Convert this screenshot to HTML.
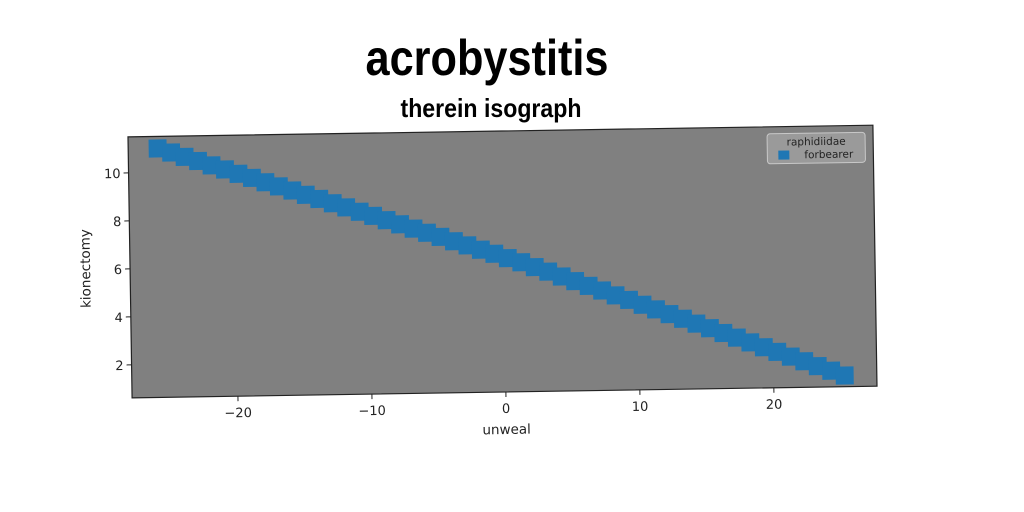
<!DOCTYPE html>
<html><head><meta charset="utf-8"><style>
html,body{margin:0;padding:0;background:#fff;}
svg{display:block;font-family:"DejaVu Sans","Liberation Sans",sans-serif;}
</style></head><body>
<svg id="chart" width="1024" height="512" viewBox="0 0 1024 512" xmlns="http://www.w3.org/2000/svg">
<rect width="1024" height="512" fill="#fff"/>
<text x="487" y="75" text-anchor="middle" font-family="Liberation Sans, sans-serif" font-size="50" font-weight="bold" textLength="243" lengthAdjust="spacingAndGlyphs">acrobystitis</text>
<text x="491" y="117" text-anchor="middle" font-family="Liberation Sans, sans-serif" font-size="26" font-weight="bold" textLength="181" lengthAdjust="spacingAndGlyphs">therein isograph</text>
<g id="plot" transform="rotate(-0.9 504 262)">
<rect x="130" y="131" width="745" height="261" fill="#808080" stroke="#222" stroke-width="1.2"/>
<g id="marks"></g>
<g id="axes"></g>
<g>
<rect x="769" y="138" width="98" height="30" rx="3" fill="#9a9a9a" stroke="#c8c8c8"/>
<text x="818" y="150" text-anchor="middle" font-size="10.5" fill="#222">raphidiidae</text>
<rect x="780" y="155" width="11" height="9" fill="#1f77b4"/>
<text x="806" y="163" font-size="10.5" fill="#222">forbearer</text>
</g>
<text x="504" y="434" text-anchor="middle" font-size="13.5" fill="#222">unweal</text>
<text transform="translate(90 262) rotate(-90)" text-anchor="middle" font-size="13.5" fill="#222">kionectomy</text>
</g>
</svg>
<script>
const xValues=[-25.7,-24.7,-23.7,-22.7,-21.7,-20.7,-19.7,-18.7,-17.7,-16.7,-15.7,-14.7,-13.7,-12.7,-11.7,-10.7,-9.7,-8.7,-7.7,-6.7,-5.7,-4.7,-3.7,-2.7,-1.7,-0.7,0.3,1.3,2.3,3.3,4.3,5.3,6.3,7.3,8.3,9.3,10.3,11.3,12.3,13.3,14.3,15.3,16.3,17.3,18.3,19.3,20.3,21.3,22.3,23.3,24.3,25.3];
const yValues=[11.00,10.82,10.63,10.45,10.26,10.08,9.89,9.71,9.52,9.34,9.16,8.97,8.79,8.60,8.42,8.23,8.05,7.86,7.68,7.49,7.31,7.13,6.94,6.76,6.57,6.39,6.20,6.02,5.81,5.61,5.40,5.20,4.99,4.79,4.58,4.38,4.17,3.97,3.76,3.56,3.35,3.15,2.94,2.74,2.53,2.32,2.12,1.91,1.71,1.50,1.30,1.09];
const xTicks=[-20,-10,0,10,20];
const yTicks=[2,4,6,8,10];
const xTickLabels=["\u221220","\u221210","0","10","20"];
const yTickLabels=["2","4","6","8","10"];
const X0=130,X1=875,Y0=131,Y1=392;
const xMin=-27.9,xMax=27.7,yMin=0.625,yMax=11.5;
function sx(v){return X0+(v-xMin)/(xMax-xMin)*(X1-X0);}
function sy(v){return Y1-(v-yMin)/(yMax-yMin)*(Y1-Y0);}
const NS="http://www.w3.org/2000/svg";
const marks=document.getElementById('marks');
const S=18;
for(let i=0;i<xValues.length;i++){
  const r=document.createElementNS(NS,'rect');
  r.setAttribute('x',sx(xValues[i])-S/2);
  r.setAttribute('y',sy(yValues[i])-S/2);
  r.setAttribute('width',S);r.setAttribute('height',S);
  r.setAttribute('fill','#1f77b4');
  
  
  marks.appendChild(r);
}
const axes=document.getElementById('axes');
xTicks.forEach((t,i)=>{
  const l=document.createElementNS(NS,'line');
  l.setAttribute('x1',sx(t));l.setAttribute('x2',sx(t));
  l.setAttribute('y1',Y1);l.setAttribute('y2',Y1+5);
  l.setAttribute('stroke','#222');
  
  
  axes.appendChild(l);
  const tx=document.createElementNS(NS,'text');
  tx.setAttribute('x',sx(t));tx.setAttribute('y',Y1+21);
  tx.setAttribute('text-anchor','middle');tx.setAttribute('font-size','13');tx.setAttribute('fill','#222');
  tx.textContent=xTickLabels[i];
  
  
  axes.appendChild(tx);
});
yTicks.forEach((t,i)=>{
  const l=document.createElementNS(NS,'line');
  l.setAttribute('x1',X0-5);l.setAttribute('x2',X0);
  l.setAttribute('y1',sy(t));l.setAttribute('y2',sy(t));
  l.setAttribute('stroke','#222');
  
  
  axes.appendChild(l);
  const tx=document.createElementNS(NS,'text');
  tx.setAttribute('x',X0-8);tx.setAttribute('y',sy(t)+5);
  tx.setAttribute('text-anchor','end');tx.setAttribute('font-size','13');tx.setAttribute('fill','#222');
  tx.textContent=yTickLabels[i];
  
  
  axes.appendChild(tx);
});
</script>
</body></html>
